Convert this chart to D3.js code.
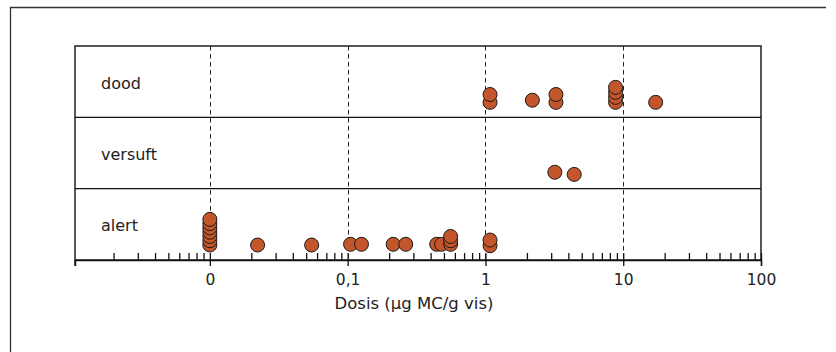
<!DOCTYPE html>
<html><head><meta charset="utf-8">
<script src="https://cdn.jsdelivr.net/npm/d3@7"></script>
<style>
html,body{margin:0;padding:0;background:#fff;}
svg{display:block;}
text{font-family:"DejaVu Sans",sans-serif;fill:#222;}
</style></head>
<body>
<svg id="chart" width="836" height="352"></svg>
<script>
// ---- data ----
const categories = ["alert", "versuft", "dood"]; // bottom to top
const majorTicks = [0.01, 0.1, 1, 10, 100];
const majorTickLabels = ["0", "0,1", "1", "10", "100"];
const gridValues = [0.01, 0.1, 1, 10];
const xTitle = "Dosis (\u00b5g MC/g vis)";

const doodDose  = [1.08, 1.08, 2.19, 3.25, 3.25, 8.8, 8.8, 8.8, 8.8, 17.2];
const doodLevel = [0.21, 0.32, 0.24, 0.21, 0.32, 0.21, 0.28, 0.35, 0.42, 0.21];

const versuftDose  = [3.19, 4.41];
const versuftLevel = [0.23, 0.20];

const alertDose  = [0.01, 0.01, 0.01, 0.01, 0.01, 0.01, 0.01, 0.0222, 0.0548, 0.105, 0.126, 0.214, 0.264, 0.443, 0.481, 0.559, 0.559, 0.559, 1.08, 1.08];
const alertLevel = [0.21, 0.27, 0.33, 0.39, 0.45, 0.51, 0.57, 0.21, 0.21, 0.22, 0.22, 0.22, 0.22, 0.22, 0.22, 0.22, 0.27, 0.33, 0.20, 0.28];

// ---- layout ----
const svg = d3.select("#chart");
const L = 75, R = 761, T = 46, B = 260;
const x = d3.scaleLog().domain([0.00105, 100]).range([L, R]);
const y = d3.scaleLinear().domain([0, categories.length]).range([B, T]);

// outer frame
svg.append("path").attr("d", `M10.5,352 V7.5 H826`)
  .attr("fill", "none").attr("stroke", "#333").attr("stroke-width", 1.3);

// dashed grid
svg.append("g").selectAll("line").data(gridValues).join("line")
  .attr("x1", d => Math.round(x(d)) + 0.5).attr("x2", d => Math.round(x(d)) + 0.5)
  .attr("y1", T).attr("y2", B)
  .attr("stroke", "#222").attr("stroke-width", 1).attr("stroke-dasharray", "4.5,3.5");

// row dividers
svg.append("g").selectAll("line").data(d3.range(1, categories.length)).join("line")
  .attr("x1", L).attr("x2", R).attr("y1", d => y(d)).attr("y2", d => y(d))
  .attr("stroke", "#111").attr("stroke-width", 1.4);

// plot border
svg.append("rect").attr("x", L).attr("y", T).attr("width", R - L).attr("height", B - T)
  .attr("fill", "none").attr("stroke", "#111").attr("stroke-width", 1.4);
svg.append("line").attr("x1", L).attr("x2", L).attr("y1", B).attr("y2", B + 6)
  .attr("stroke", "#111").attr("stroke-width", 1.4);

// axis
const minorTicks = [];
[0.001, 0.01, 0.1, 1, 10].forEach(dec => {
  for (let k = 2; k <= 9; k++) {
    const v = k * dec;
    if (v > x.domain()[0] && v < x.domain()[1]) minorTicks.push(+v.toPrecision(3));
  }
});
const axisG = svg.append("g").attr("transform", `translate(0,${B})`);
const minorAxis = d3.axisBottom(x).tickValues(minorTicks).tickSize(-7).tickFormat("");
axisG.append("g").call(minorAxis).call(g => {
  g.select(".domain").remove();
  g.selectAll("line").attr("stroke", "#111").attr("stroke-width", 1.3);
});
const majorAxis = d3.axisBottom(x).tickValues(majorTicks).tickSize(6).tickPadding(8)
  .tickFormat((d, i) => majorTickLabels[i]);
axisG.append("g").call(majorAxis).call(g => {
  g.select(".domain").attr("stroke", "#111").attr("stroke-width", 1.4);
  g.selectAll("line").attr("y1", -7).attr("stroke", "#111").attr("stroke-width", 1.3);
  g.selectAll("text").attr("font-size", 15.5).attr("fill", "#222")
    .style("font-family", '"DejaVu Sans",sans-serif');
});

// axis title
svg.append("text").attr("x", (L + R) / 2 - 4).attr("y", 309)
  .attr("text-anchor", "middle").attr("font-size", 16.5).text(xTitle);

// row labels
svg.append("g").selectAll("text").data(categories).join("text")
  .attr("x", 101).attr("y", (d, i) => y(i + 0.5) + 7)
  .attr("font-size", 16).text(d => d);

// points
const rows = [
  {dose: alertDose, level: alertLevel},
  {dose: versuftDose, level: versuftLevel},
  {dose: doodDose, level: doodLevel}
];
const pts = [];
rows.forEach((r, i) => r.dose.forEach((d, j) => pts.push({dose: d, yv: i + r.level[j]})));
svg.append("g").selectAll("circle").data(pts).join("circle")
  .attr("cx", d => x(d.dose)).attr("cy", d => y(d.yv)).attr("r", 7)
  .attr("fill", "#c4562b").attr("stroke", "#1a1a1a").attr("stroke-width", 1);
</script>
</body></html>
